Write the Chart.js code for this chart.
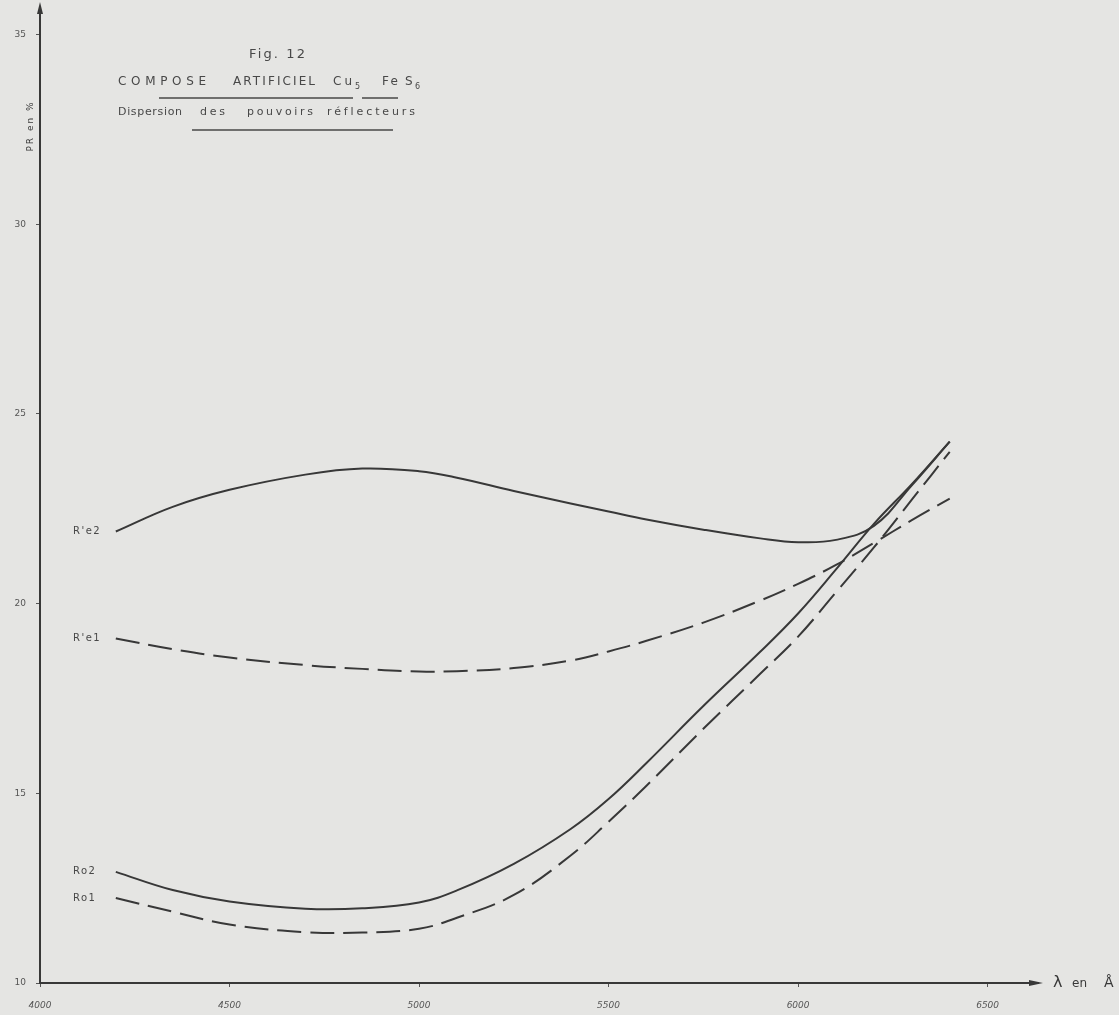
<!DOCTYPE html>
<html>
<head>
<meta charset="utf-8">
<script src="https://cdn.jsdelivr.net/npm/chart.js@4.4.1/dist/chart.umd.min.js"></script>
<style>
  html, body { margin: 0; padding: 0; background: #e5e5e3; }
  #wrap { width: 1119px; height: 1015px; }
</style>
</head>
<body>
<div id="wrap"><canvas id="dispChart" width="1119" height="1015"></canvas></div>
<script>
// wavelengths (Angstrom) and reflectance (PR %)
var lambdas = [4200, 4350, 4500, 4700, 4850, 5000, 5100, 5250, 5400, 5500, 5600, 5750, 5900, 6000, 6100, 6200, 6300, 6400];
var rE2 = [21.9, 22.55, 23.0, 23.4, 23.56, 23.49, 23.32, 22.97, 22.64, 22.43, 22.22, 21.95, 21.72, 21.62, 21.68, 22.05, 23.12, 24.27];
var rE1 = [19.08, 18.8, 18.58, 18.38, 18.28, 18.21, 18.22, 18.3, 18.5, 18.74, 19.02, 19.5, 20.08, 20.52, 21.02, 21.6, 22.2, 22.77];
var ro2 = [12.93, 12.45, 12.15, 11.96, 11.97, 12.12, 12.44, 13.14, 14.06, 14.85, 15.8, 17.3, 18.73, 19.74, 20.9, 22.1, 23.15, 24.27];
var ro1 = [12.24, 11.88, 11.54, 11.34, 11.33, 11.43, 11.72, 12.32, 13.36, 14.25, 15.2, 16.7, 18.15, 19.13, 20.3, 21.48, 22.74, 24.0];
var seriesNames = ["R'e2", "R'e1", "Ro2", "Ro1"];
var xTicks = [4000, 4500, 5000, 5500, 6000, 6500];
var yTicks = [10, 15, 20, 25, 30, 35];

var ink = '#383838';
var paper = '#e5e5e3';

function pts(vals) {
  return lambdas.map(function(l, i) { return { x: l, y: vals[i] }; });
}

// draw a word stretched (via letter spacing) to a given width
function fitText(c, txt, x, y, w) {
  c.letterSpacing = '0px';
  var natural = c.measureText(txt).width;
  var sp = (w - natural) / Math.max(txt.length - 1, 1);
  c.letterSpacing = Math.max(sp, 0) + 'px';
  c.fillText(txt, x, y);
  c.letterSpacing = '0px';
}

var decor = {
  id: 'decor',
  beforeDraw: function(chart) {
    var c = chart.ctx;
    c.save();
    c.fillStyle = paper;
    c.fillRect(0, 0, chart.width, chart.height);
    c.restore();
  },
  afterDraw: function(chart) {
    var c = chart.ctx;
    var a = chart.chartArea;
    c.save();
    c.fillStyle = ink;
    c.strokeStyle = ink;

    // arrow heads
    c.beginPath();
    c.moveTo(a.left, a.top - 6);
    c.lineTo(a.left - 3, a.top + 6);
    c.lineTo(a.left + 3, a.top + 6);
    c.closePath();
    c.fill();
    c.beginPath();
    c.moveTo(a.right + 8, a.bottom);
    c.lineTo(a.right - 6, a.bottom - 3);
    c.lineTo(a.right - 6, a.bottom + 3);
    c.closePath();
    c.fill();
    c.lineWidth = 2;
    c.beginPath();
    c.moveTo(a.right, a.bottom);
    c.lineTo(a.right + 4, a.bottom);
    c.stroke();

    // axis names
    c.font = '16px "DejaVu Sans"';
    c.textBaseline = 'middle';
    c.textAlign = 'left';
    c.fillText('\u03bb', a.right + 18, a.bottom);
    c.font = '12px "DejaVu Sans"';
    fitText(c, 'en', a.right + 37, a.bottom + 1, 14);
    c.font = '14px "DejaVu Sans"';
    c.fillText('\u00c5', a.right + 69, a.bottom);

    c.save();
    c.translate(31, 126);
    c.rotate(-Math.PI / 2);
    c.font = '9px "DejaVu Sans"';
    c.letterSpacing = '2px';
    c.textAlign = 'center';
    c.fillText('PR en %', 0, 0);
    c.restore();

    // title block
    c.fillStyle = '#484848';
    c.textBaseline = 'alphabetic';
    c.font = '13px "DejaVu Sans"';
    fitText(c, 'Fig. 12', 249, 58, 56);
    c.font = '12px "DejaVu Sans"';
    fitText(c, 'COMPOSE', 118, 85, 88);
    fitText(c, 'ARTIFICIEL', 233, 85, 82);
    fitText(c, 'Cu', 333, 85, 19);
    fitText(c, 'Fe', 382, 85, 16);
    c.fillText('S', 405, 85);
    c.font = '8px "DejaVu Sans"';
    c.fillText('5', 355, 89);
    c.fillText('6', 415, 89);
    c.font = '11px "DejaVu Sans"';
    fitText(c, 'Dispersion', 118, 115, 64);
    fitText(c, 'des', 200, 115, 25);
    fitText(c, 'pouvoirs', 247, 115, 66);
    fitText(c, 'r\u00e9flecteurs', 327, 115, 88);
    c.lineWidth = 1.3;
    c.strokeStyle = '#484848';
    c.beginPath();
    c.moveTo(159, 98); c.lineTo(353, 98);
    c.moveTo(362, 98); c.lineTo(398, 98);
    c.moveTo(192, 130); c.lineTo(393, 130);
    c.stroke();

    // curve labels at the start of each curve
    c.font = '10px "DejaVu Sans"';
    c.fillStyle = '#484848';
    c.textBaseline = 'middle';
    c.textAlign = 'left';
    chart.data.datasets.forEach(function(ds, i) {
      var p = chart.getDatasetMeta(i).data[0];
      c.letterSpacing = '1.5px';
      c.fillText(ds.label, 73, p.y);
    });
    c.restore();
  }
};

var ctx = document.getElementById('dispChart').getContext('2d');
var chart = new Chart(ctx, {
  type: 'line',
  data: {
    datasets: [
      { label: seriesNames[0], data: pts(rE2), borderDash: [] },
      { label: seriesNames[1], data: pts(rE1), borderDash: [24, 9] },
      { label: seriesNames[2], data: pts(ro2), borderDash: [] },
      { label: seriesNames[3], data: pts(ro1), borderDash: [24, 9] }
    ]
  },
  options: {
    responsive: false,
    animation: false,
    layout: { padding: { left: 0, top: 8, right: 84, bottom: 0 } },
    elements: {
      line: { borderColor: ink, borderWidth: 2, fill: false, tension: 0.4 },
      point: { radius: 0 }
    },
    plugins: {
      legend: { display: false },
      tooltip: { enabled: false }
    },
    scales: {
      x: {
        type: 'linear',
        min: 4000,
        max: 6625,
        afterBuildTicks: function(s) { s.ticks = xTicks.map(function(v) { return { value: v }; }); },
        afterFit: function(s) { s.height = 32; s.paddingLeft = 0; s.paddingRight = 0; },
        border: { color: ink, width: 2 },
        grid: { drawOnChartArea: false, drawTicks: true, tickLength: 4, color: '#555' },
        ticks: {
          maxRotation: 0,
          autoSkip: false,
          padding: 13,
          color: '#555',
          font: { family: 'DejaVu Sans', size: 9, style: 'italic' },
          callback: function(v) { return String(v); }
        }
      },
      y: {
        type: 'linear',
        min: 10,
        max: 35.7,
        afterBuildTicks: function(s) { s.ticks = yTicks.map(function(v) { return { value: v }; }); },
        afterFit: function(s) { s.width = 40; s.paddingTop = 0; s.paddingBottom = 0; },
        border: { color: ink, width: 2 },
        grid: { drawOnChartArea: false, drawTicks: true, tickLength: 4, color: '#555' },
        ticks: {
          autoSkip: false,
          padding: 10,
          color: '#555',
          font: { family: 'DejaVu Sans', size: 9 }
        }
      }
    }
  },
  plugins: [decor]
});
</script>
</body>
</html>
